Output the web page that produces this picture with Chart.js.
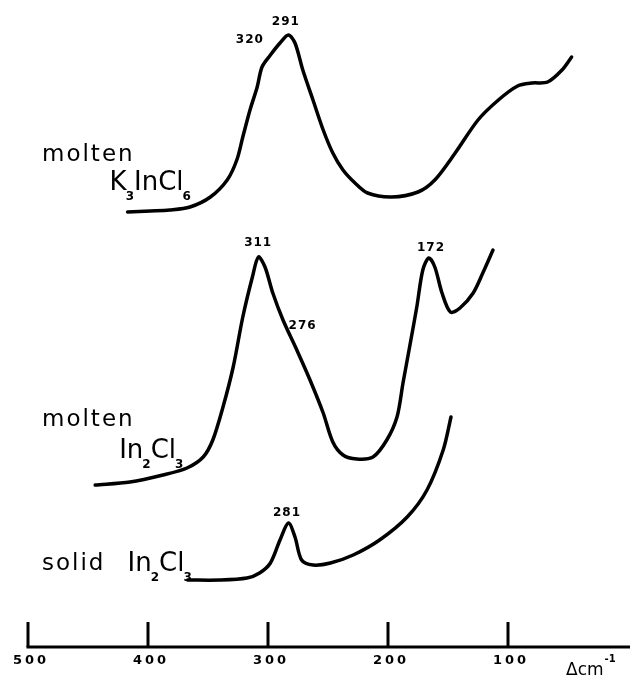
<!DOCTYPE html>
<html>
<head>
<meta charset="utf-8">
<script src="https://cdn.jsdelivr.net/npm/chart.js@4"></script>
<style>
  body { margin: 0; background: #fff; }
  canvas { display: block; }
</style>
</head>
<body>
<canvas id="ramanChart" width="630" height="689"></canvas>
<script>
// wavenumber shift (cm-1) and relative intensity (arbitrary units, traces stacked)
const k3Wave = [417, 398, 382, 365, 348, 334, 326, 321, 315, 309, 305, 298, 290, 283, 277.5, 271, 262.5, 254, 246, 237.5, 227.5, 217, 197, 175, 161, 144, 125, 108, 92, 80, 67, 55, 47];
const k3Int  = [435, 436, 437, 440, 450, 467, 487, 510, 537, 560, 580, 592, 604, 612, 604, 577, 547, 517, 494, 477, 464, 454, 450, 455, 467, 494, 527, 547, 561, 564, 565, 577, 590];

const moltenWave = [444, 415, 387.5, 367.5, 354, 346, 337.5, 329, 321, 313, 308, 302.5, 296, 287.5, 276, 265, 254, 246, 237.5, 226, 212.5, 201, 192.5, 187.5, 182, 176, 171, 166, 161, 155, 148, 140, 129, 121, 112.5];
const moltenInt  = [162, 165, 172, 179, 190, 207, 240, 280, 330, 370, 390, 380, 354, 327, 297, 267, 234, 205, 192, 188, 190, 207, 230, 264, 300, 340, 377, 389, 380, 354, 335, 339, 354, 374, 397];

const solidWave = [367, 340, 317.5, 307, 298, 290, 283, 277.5, 272, 262.5, 248, 229, 207, 184, 167.5, 154, 147.5];
const solidInt  = [67, 67, 69, 74, 84, 107, 124, 110, 87, 82, 84, 92, 107, 130, 157, 197, 230];

const axisTicks = [500, 400, 300, 200, 100];

const peakLabels = ['320', '291', '311', '276', '172', '281'];
const peakWave   = [316, 286, 309, 272, 165, 285];
const peakInt    = [607, 625, 404, 321, 399, 134];

function toPoints(xs, ys) {
    return xs.map((x, i) => ({ x: x, y: ys[i] }));
}

// formula with subscripts, e.g. K3InCl6
function drawFormula(ctx, parts, x, y) {
    ctx.textAlign = 'left';
    ctx.textBaseline = 'middle';
    let cx = x;
    parts.forEach(([txt, sub]) => {
        ctx.font = sub ? 'bold 12px "DejaVu Sans"' : '26px "DejaVu Sans"';
        ctx.fillText(txt, cx, y + (sub ? 14 : 0));
        cx += ctx.measureText(txt).width + (sub ? 0 : -1);
    });
}

const sampleText = {
    id: 'sampleText',
    afterDatasetsDraw(chart) {
        const ctx = chart.ctx;
        const xs = chart.scales.x;
        const ys = chart.scales.y;
        ctx.save();
        ctx.fillStyle = '#000';
        ctx.strokeStyle = '#000';

        // baseline axis with upward ticks
        const y0 = ys.getPixelForValue(0);
        ctx.lineWidth = 3;
        ctx.beginPath();
        ctx.moveTo(xs.getPixelForValue(500) - 1.5, y0);
        ctx.lineTo(chart.width, y0);
        ctx.stroke();
        ctx.beginPath();
        axisTicks.forEach(t => {
            const px = xs.getPixelForValue(t);
            ctx.moveTo(px, y0);
            ctx.lineTo(px, ys.getPixelForValue(25));
        });
        ctx.stroke();

        ctx.font = 'bold 13px "DejaVu Sans"';
        ctx.letterSpacing = '3px';
        ctx.textAlign = 'center';
        ctx.textBaseline = 'middle';
        axisTicks.forEach(t => {
            ctx.fillText(String(t), xs.getPixelForValue(t) + 3, y0 + 14);
        });
        ctx.letterSpacing = '0px';

        // axis title
        ctx.textAlign = 'left';
        ctx.font = '17px "DejaVu Sans"';
        ctx.fillText('\u0394cm', 566, y0 + 24);
        const w = ctx.measureText('\u0394cm').width;
        ctx.font = 'bold 10px "DejaVu Sans"';
        ctx.fillText('-1', 566 + w + 1, y0 + 12);

        // peak labels
        ctx.font = 'bold 12px "DejaVu Sans"';
        ctx.letterSpacing = '1px';
        ctx.textAlign = 'center';
        peakLabels.forEach((lab, i) => {
            ctx.fillText(lab, xs.getPixelForValue(peakWave[i]) + 1, ys.getPixelForValue(peakInt[i]));
        });

        // sample names
        ctx.letterSpacing = '2px';
        ctx.textAlign = 'left';
        ctx.font = '23px "DejaVu Sans"';
        ctx.fillText('molten', 42, ys.getPixelForValue(492));
        ctx.fillText('molten', 42, ys.getPixelForValue(227));
        ctx.fillText('solid', 42, ys.getPixelForValue(83));
        ctx.letterSpacing = '0px';

        drawFormula(ctx, [['K', 0], ['3', 1], ['InCl', 0], ['6', 1]], xs.getPixelForValue(432), ys.getPixelForValue(464));
        drawFormula(ctx, [['In', 0], ['2', 1], ['Cl', 0], ['3', 1]], xs.getPixelForValue(424), ys.getPixelForValue(196));
        drawFormula(ctx, [['In', 0], ['2', 1], ['Cl', 0], ['3', 1]], xs.getPixelForValue(417), ys.getPixelForValue(83));
        ctx.restore();
    }
};

const lineStyle = {
    borderColor: '#000',
    borderWidth: 3.5,
    pointRadius: 0,
    fill: false,
    tension: 0.3,
    borderCapStyle: 'round',
    borderJoinStyle: 'round'
};

new Chart(document.getElementById('ramanChart'), {
    type: 'line',
    data: {
        datasets: [
            { label: 'molten K3InCl6', data: toPoints(k3Wave, k3Int), ...lineStyle },
            { label: 'molten In2Cl3', data: toPoints(moltenWave, moltenInt), ...lineStyle },
            { label: 'solid In2Cl3', data: toPoints(solidWave, solidInt), ...lineStyle }
        ]
    },
    options: {
        responsive: false,
        animation: false,
        layout: { padding: { left: 28, right: 2, top: 0, bottom: 42 } },
        plugins: { legend: { display: false }, tooltip: { enabled: false } },
        scales: {
            x: { type: 'linear', min: 0, max: 500, reverse: true, display: false },
            y: { type: 'linear', min: 0, max: 647, display: false }
        }
    },
    plugins: [sampleText]
});
</script>
</body>
</html>
